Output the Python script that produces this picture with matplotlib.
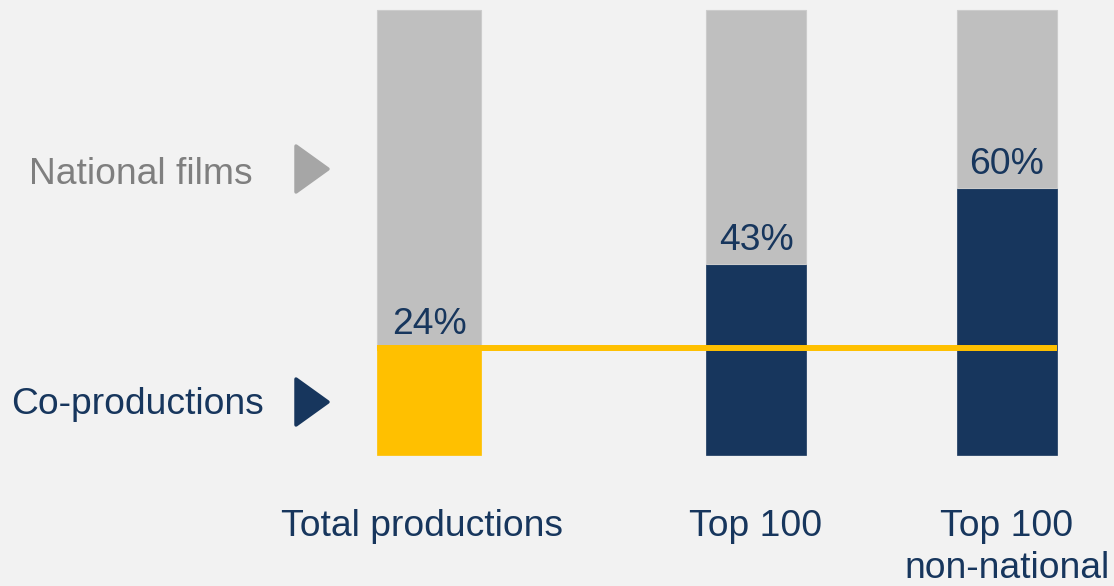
import matplotlib
matplotlib.use("Agg")
import matplotlib.pyplot as plt
from matplotlib.patches import Polygon

# ---- data ----
categories = ["Total productions", "Top 100", "Top 100\nnon-national"]
coproductions = [0.24, 0.43, 0.60]
national = [1 - v for v in coproductions]
value_labels = ["24%", "43%", "60%"]
series_names = ["National films", "Co-productions"]

# ---- style / layout ----
W, H = 1114, 586
BG = "#f2f2f2"
NAVY = "#17365d"
GRAY = "#bfbfbf"
YELLOW = "#ffc000"
TXT_GRAY = "#7f7f7f"
TRI_GRAY = "#a6a6a6"
positions = [429, 756, 1007]
label_x = [422, 756, 1007]
widths = [104, 100, 100]
bottom_colors = [YELLOW, NAVY, NAVY]
FS = 26.8

plt.rcParams['font.family'] = ['Liberation Sans', 'DejaVu Sans']

fig = plt.figure(figsize=(W / 100, H / 100), dpi=100, facecolor=BG)
ax = fig.add_axes([0, 0, 1, 1])
ax.set_facecolor(BG)
ax.set_xlim(0, W)
y0_px, y1_px = 455, 10  # pixel rows (from top) of 0 and 1
scale = y0_px - y1_px
ax.set_ylim(-(H - y0_px) / scale, 1 + y1_px / scale)
for s in ax.spines.values():
    s.set_visible(False)
ax.set_yticks([])
ax.set_xticks([])

ax.bar(positions, coproductions, width=widths, color=bottom_colors,
       edgecolor=bottom_colors, linewidth=0.5, zorder=2)
ax.bar(positions, national, bottom=coproductions, width=widths, color=GRAY,
       edgecolor="#cccccc", linewidth=0.8, zorder=2)

# reference line at the level of total productions
x_left = positions[0] - widths[0] / 2
x_right = positions[-1] + widths[-1] / 2
ax.hlines(coproductions[0], x_left, x_right, color=YELLOW, linewidth=4.3, zorder=3)

for x, v, lab in zip(positions, coproductions, value_labels):
    ax.annotate(lab, (x, v), xytext=(0, 10), textcoords="offset points",
                ha="center", va="baseline", fontsize=FS, color=NAVY, zorder=4)

# category labels below the bars
cat_y = (y0_px - 509) / scale
for x, lab in zip(label_x, categories):
    ax.text(x, cat_y, lab, ha="center", va="top", fontsize=FS, color=NAVY,
            multialignment="center", linespacing=1.25)

# series labels on the left with triangles
def fx(px):
    return px / W

def fy(py):
    return 1 - py / H

fig.text(fx(253), fy(174), series_names[0], ha="right", va="center",
         fontsize=FS, color=TXT_GRAY)
fig.text(fx(264), fy(405), series_names[1], ha="right", va="center",
         fontsize=FS, color=NAVY)

for cy, col in [(169, TRI_GRAY), (402, NAVY)]:
    tri = Polygon([(fx(296), fy(cy - 23)), (fx(328), fy(cy)), (fx(296), fy(cy + 23))],
                  closed=True, transform=fig.transFigure, facecolor=col,
                  edgecolor=col, linewidth=2.5, joinstyle="round")
    fig.patches.append(tri)

fig.savefig("out.png", dpi=100, facecolor=BG)
